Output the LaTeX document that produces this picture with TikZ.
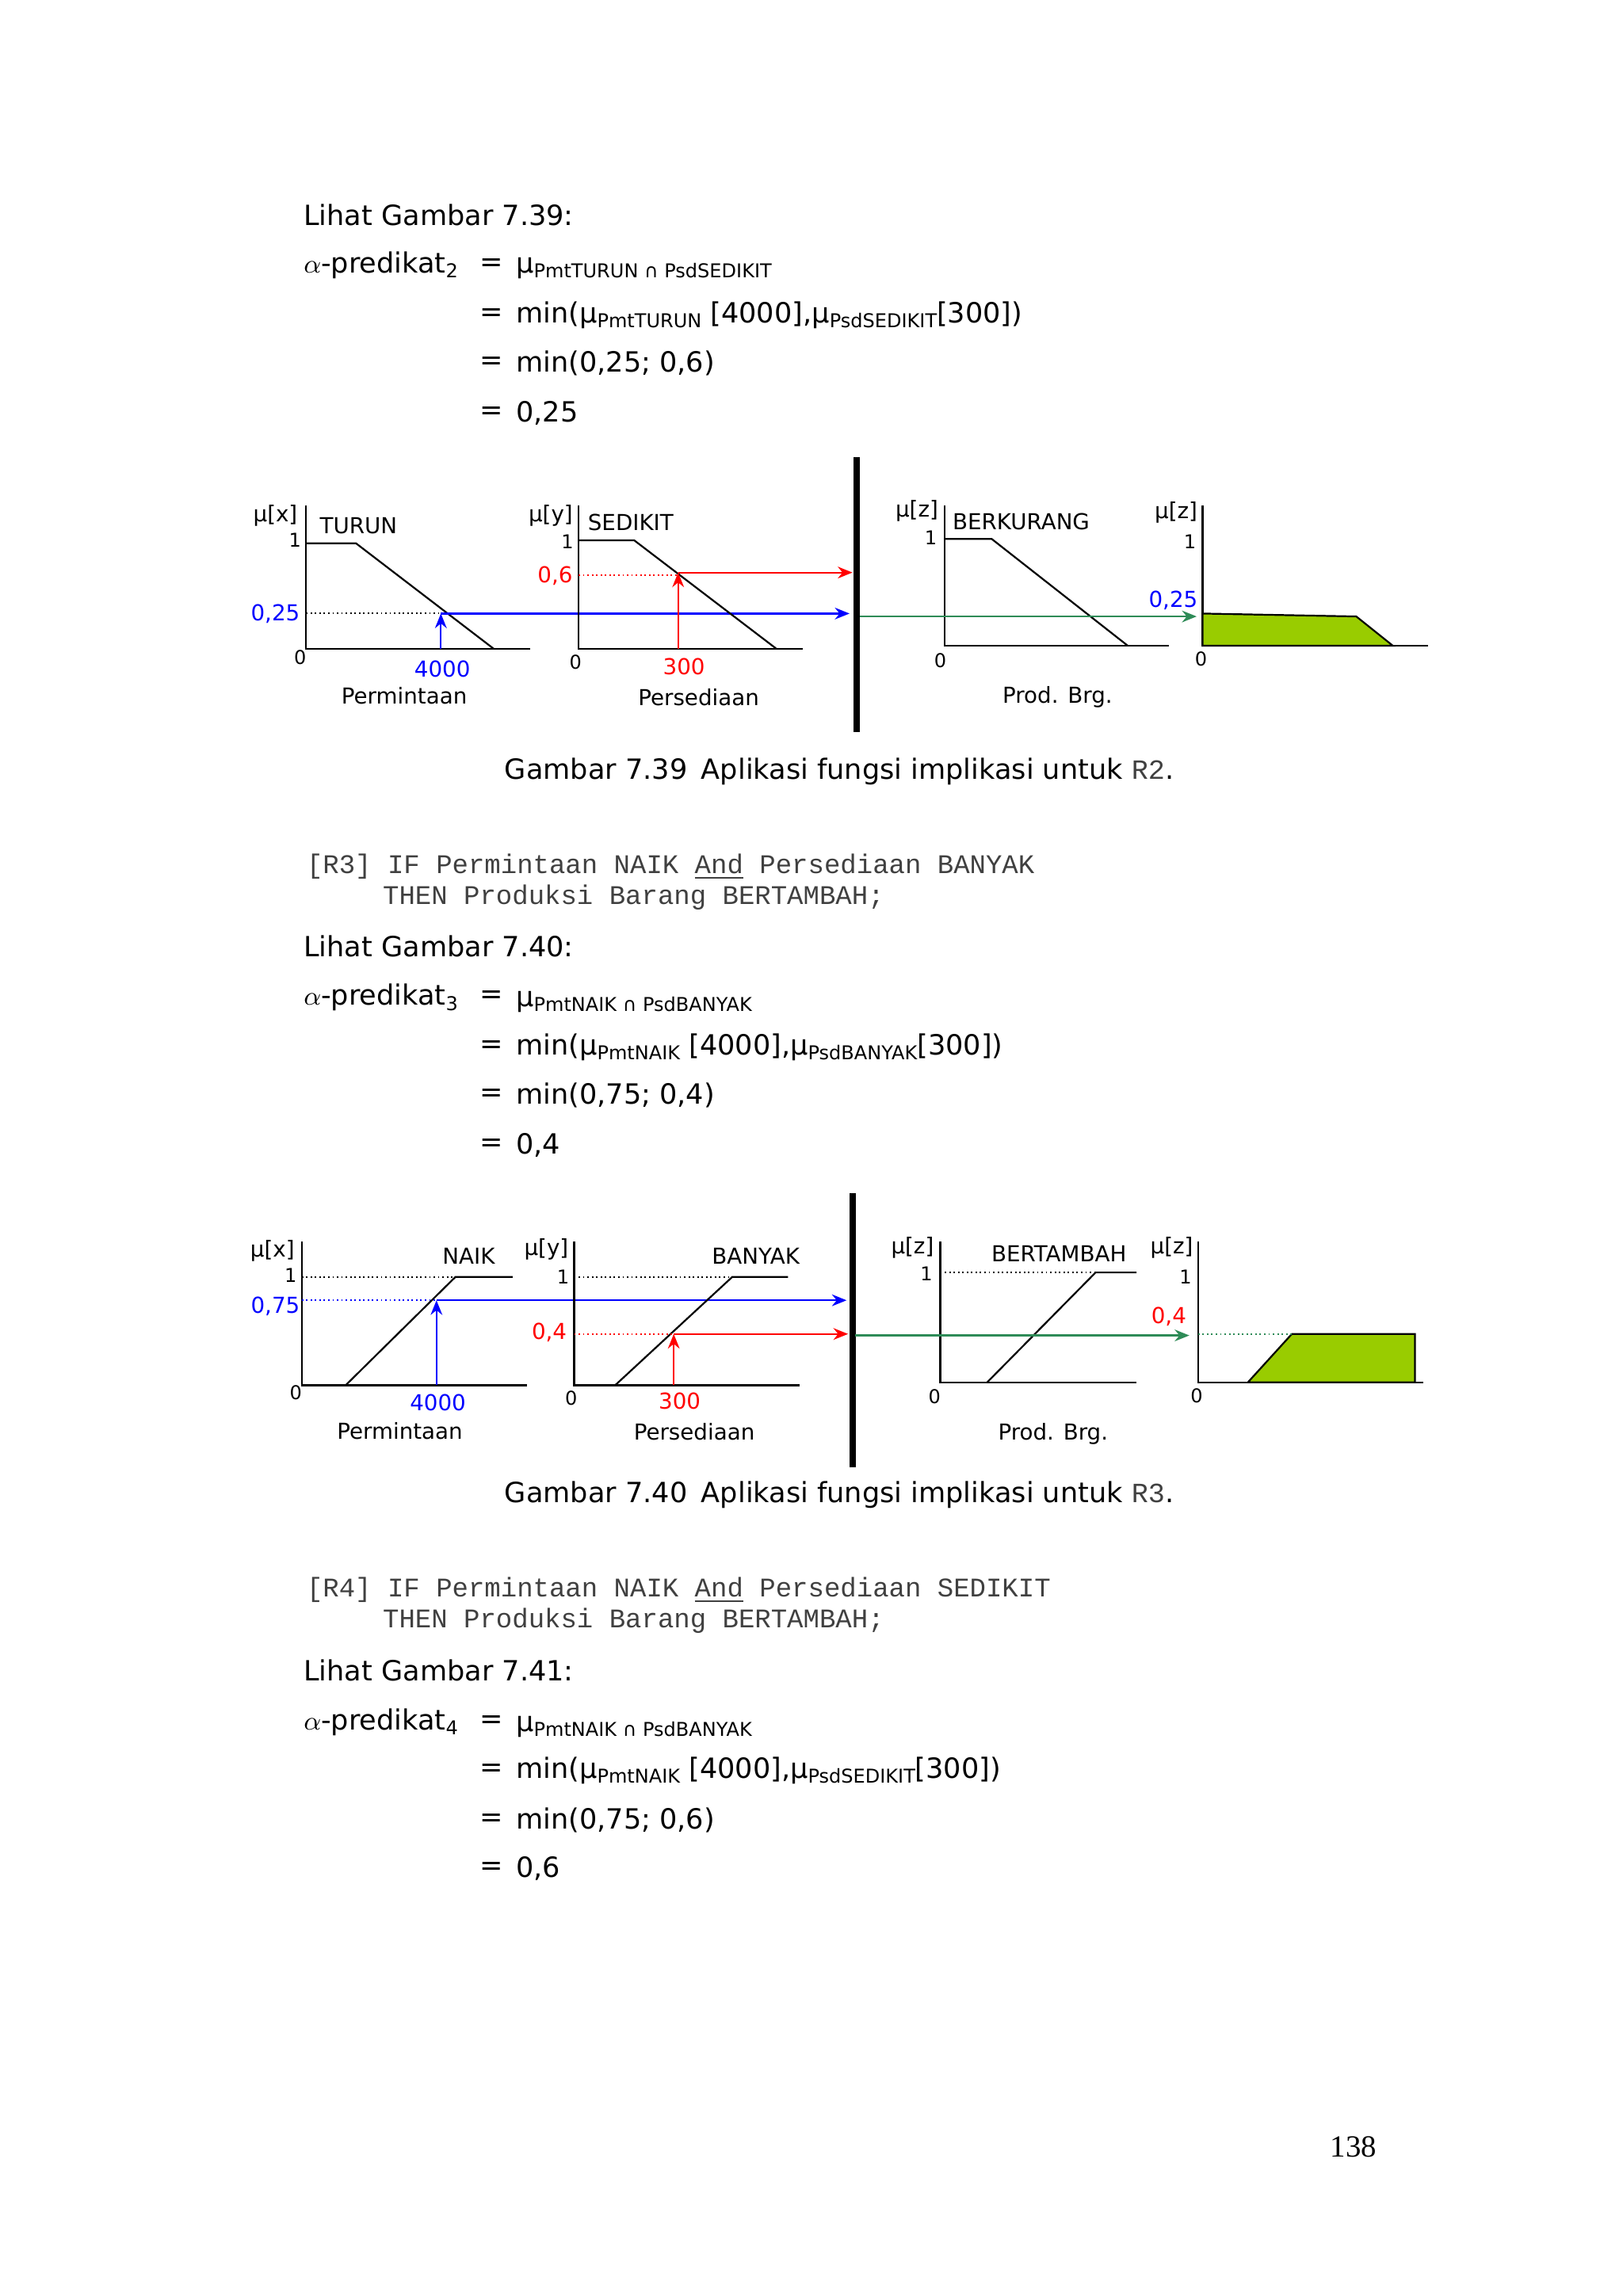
\documentclass[tikz,border=0pt]{standalone}
\usepackage{fontspec}
\setmainfont{DejaVu Sans}
\newfontfamily\monof{Liberation Mono}
\newfontfamily\serf{Liberation Serif}
\usetikzlibrary{arrows.meta}
\newcommand{\sbx}[1]{\raisebox{-0.35ex}{\fontsize{6.5}{8}\selectfont #1}}
\definecolor{lgreen}{RGB}{153,204,0}
\definecolor{dgreen}{RGB}{46,139,87}
\tikzset{
 txt/.style={anchor=west,inner sep=0pt,font=\fontsize{9.5}{11}\selectfont},
 code/.style={anchor=west,inner sep=0pt,font=\monof\fontsize{9.2}{11}\selectfont,text=black!75},
 lab/.style={inner sep=0pt,font=\fontsize{7.5}{9}\selectfont},
 sml/.style={inner sep=0pt,font=\fontsize{6.5}{8}\selectfont},
 ax/.style={line width=0.6pt},
 mf/.style={line width=0.6pt},
 arr/.style={line width=0.6pt,-{Stealth[length=5pt,width=4pt]}},
 dot/.style={densely dotted,line width=0.5pt},
 bar/.style={line width=2.2pt},
}
\begin{document}
\begin{tikzpicture}[x=0.5pt,y=-0.5pt]
\useasboundingbox (0,0) rectangle (1108,1568);
% ---------- text block 1
\node[txt] (l1) at (207,147) {Lihat Gambar 7.39:};
\node[txt] (a1) at (207,181) {$\alpha$-predikat\sbx{2}};
\foreach \y/\n in {181/e1,215/e2,248/e3,282/e4}{\node[txt] (\n) at (327,\y) {=};}
\node[txt] (r1) at (352,183) {μ\sbx{PmtTURUN ∩ PsdSEDIKIT}};
\node[txt] (r2) at (352,215) {min(μ\sbx{PmtTURUN} [4000],μ\sbx{PsdSEDIKIT}[300])};
\node[txt] (r3) at (352,248) {min(0,25; 0,6)};
\node[txt] (r4) at (352,282) {0,25};
% ---------- figure 1
\draw[ax] (209,345) -- (209,443) -- (362,443);
\draw[mf] (209,371) -- (243,371) -- (337,443);
\node[sml,anchor=east] (f1one) at (206,369) {1};
\node[lab] (f1mu) at (188,352) {μ[x]};
\node[lab,anchor=west] (f1t) at (218,359) {TURUN};
\node[lab,blue] (f1a) at (188,419) {0,25};
\node[sml] (f1z) at (205,449) {0};
\node[lab,blue] (f1n) at (302,457) {4000};
\node[lab] (f1p) at (276,475) {Permintaan};
\coordinate (f1b) at (301,443); \coordinate (f1c) at (301,419);
\draw[dot] (209,419) -- (f1c);
\draw[arr,blue] (f1b) -- (f1c);
\coordinate (f1e) at (580,419);
\draw[arr,blue] (f1c) -- (f1e);

\draw[ax] (395,345) -- (395,443) -- (548,443);
\draw[mf] (395,369) -- (433,369) -- (530,443);
\node[lab] (f2mu) at (376,352) {μ[y]};
\node[sml,anchor=east] (f2one) at (392,370) {1};
\node[lab,anchor=west] (f2t) at (401,357) {SEDIKIT};
\node[lab,red] (f2a) at (379,393) {0,6};
\node[sml] (f2z) at (393,452) {0};
\node[lab,red] (f2n) at (467,455) {300};
\node[lab] (f2p) at (477,476) {Persediaan};
\coordinate (f2b) at (463,443); \coordinate (f2c) at (463,391);
\draw[dot,red] (395,393) -- (463,393);
\draw[arr,red] (f2b) -- (f2c);
\coordinate (f2e) at (582,391);
\draw[arr,red] (f2c) -- (f2e);

\draw[bar] (585,312) -- (585,500);

\draw[ax] (645,345) -- (645,441) -- (798,441);
\draw[mf] (645,368) -- (677,368) -- (770,441);
\node[lab] (f3mu) at (626,349) {μ[z]};
\node[sml,anchor=east] (f3one) at (640,367) {1};
\node[lab,anchor=west] (f3t) at (650,356) {BERKURANG};
\node[sml] (f3z) at (642,451) {0};
\node[lab] (f3p) at (722,476) {Prod. Brg.};
\coordinate (g1s) at (587,421); \coordinate (g1e) at (817,421);
\draw[arr,dgreen] (g1s) -- (g1e);

\draw[ax] (821,345) -- (821,441) -- (975,441);
\fill[lgreen,draw=black,line width=0.6pt] (821,419) -- (926,421) -- (951,441) -- (821,441) -- cycle;
\node[lab] (f4mu) at (803,350) {μ[z]};
\node[sml,anchor=east] (f4one) at (817,370) {1};
\node[lab,blue] (f4a) at (801,410) {0,25};
\node[sml] (f4z) at (820,450) {0};

\node[txt,anchor=center] (cap1) at (573,527) {Gambar 7.39\enspace Aplikasi fungsi implikasi untuk {\monof\color{black!75}R2}.};

% ---------- text block 2
\node[code] (c1) at (209,592) {[R3] IF Permintaan NAIK \underline{And} Persediaan BANYAK};
\node[code] (c2) at (261,613) {THEN Produksi Barang BERTAMBAH;};
\node[txt] (l2) at (207,646) {Lihat Gambar 7.40:};
\node[txt] (a2) at (207,681) {$\alpha$-predikat\sbx{3}};
\foreach \y/\n in {681/q1,715/q2,748/q3,782/q4}{\node[txt] (\n) at (327,\y) {=};}
\node[txt] (s1) at (352,684) {μ\sbx{PmtNAIK ∩ PsdBANYAK}};
\node[txt] (s2) at (352,715) {min(μ\sbx{PmtNAIK} [4000],μ\sbx{PsdBANYAK}[300])};
\node[txt] (s3) at (352,748) {min(0,75; 0,4)};
\node[txt] (s4) at (352,782) {0,4};

% ---------- figure 2
\draw[ax] (206,848) -- (206,946) -- (360,946);
\draw[mf] (236,946) -- (311,872) -- (350,872);
\draw[dot] (206,872) -- (311,872);
\node[sml,anchor=east] (h1one) at (203,871) {1};
\node[lab] (h1mu) at (186,854) {μ[x]};
\node[lab] (h1t) at (320,858) {NAIK};
\node[lab,blue] (h1a) at (188,892) {0,75};
\node[sml] (h1z) at (202,951) {0};
\node[lab,blue] (h1n) at (299,958) {4000};
\node[lab] (h1p) at (273,977) {Permintaan};
\coordinate (h1b) at (298,946); \coordinate (h1c) at (298,888);
\draw[dot,blue] (206,888) -- (h1c);
\draw[arr,blue] (h1b) -- (h1c);
\coordinate (h1e) at (578,888);
\draw[arr,blue] (h1c) -- (h1e);

\draw[ax] (392,848) -- (392,946) -- (546,946);
\draw[mf] (420,946) -- (500,872) -- (538,872);
\draw[dot] (392,872) -- (500,872);
\node[lab] (h2mu) at (373,853) {μ[y]};
\node[sml,anchor=east] (h2one) at (389,872) {1};
\node[lab] (h2t) at (516,858) {BANYAK};
\node[lab,red] (h2a) at (375,910) {0,4};
\node[sml] (h2z) at (390,955) {0};
\node[lab,red] (h2n) at (464,957) {300};
\node[lab] (h2p) at (474,978) {Persediaan};
\coordinate (h2b) at (460,946); \coordinate (h2c) at (460,911);
\draw[dot,red] (392,911) -- (h2c);
\draw[arr,red] (h2b) -- (h2c);
\coordinate (h2e) at (579,911);
\draw[arr,red] (h2c) -- (h2e);

\draw[bar] (582,815) -- (582,1002);

\draw[ax] (642,848) -- (642,944) -- (776,944);
\draw[mf] (674,944) -- (748,869) -- (776,869);
\draw[dot] (642,869) -- (748,869);
\node[lab] (h3mu) at (623,852) {μ[z]};
\node[sml,anchor=east] (h3one) at (637,870) {1};
\node[lab] (h3t) at (723,856) {BERTAMBAH};
\node[sml] (h3z) at (638,954) {0};
\node[lab] (h3p) at (719,979) {Prod. Brg.};
\coordinate (g2s) at (584,912); \coordinate (g2e) at (812,912);
\draw[arr,dgreen] (g2s) -- (g2e);

\draw[ax] (818,848) -- (818,944) -- (972,944);
\fill[lgreen,draw=black,line width=0.6pt] (852,944) -- (882,911) -- (966,911) -- (966,944) -- cycle;
\draw[dot,dgreen] (818,911) -- (882,911);
\node[lab] (h4mu) at (800,852) {μ[z]};
\node[sml,anchor=east] (h4one) at (814,872) {1};
\node[lab,red] (h4a) at (798,899) {0,4};
\node[sml] (h4z) at (817,953) {0};

\node[txt,anchor=center] (cap2) at (573,1021) {Gambar 7.40\enspace Aplikasi fungsi implikasi untuk {\monof\color{black!75}R3}.};

% ---------- text block 3
\node[code] (d1) at (209,1086) {[R4] IF Permintaan NAIK \underline{And} Persediaan SEDIKIT};
\node[code] (d2) at (261,1107) {THEN Produksi Barang BERTAMBAH;};
\node[txt] (l3) at (207,1141) {Lihat Gambar 7.41:};
\node[txt] (a3) at (207,1176) {$\alpha$-predikat\sbx{4}};
\foreach \y/\n in {1176/p1,1209/p2,1243/p3,1276/p4}{\node[txt] (\n) at (327,\y) {=};}
\node[txt] (t1) at (352,1179) {μ\sbx{PmtNAIK ∩ PsdBANYAK}};
\node[txt] (t2) at (352,1209) {min(μ\sbx{PmtNAIK} [4000],μ\sbx{PsdSEDIKIT}[300])};
\node[txt] (t3) at (352,1243) {min(0,75; 0,6)};
\node[txt] (t4) at (352,1276) {0,6};

\node[inner sep=0pt,font=\serf\fontsize{10.5}{12}\selectfont] (pg) at (924,1466) {138};
\end{tikzpicture}
\end{document}
